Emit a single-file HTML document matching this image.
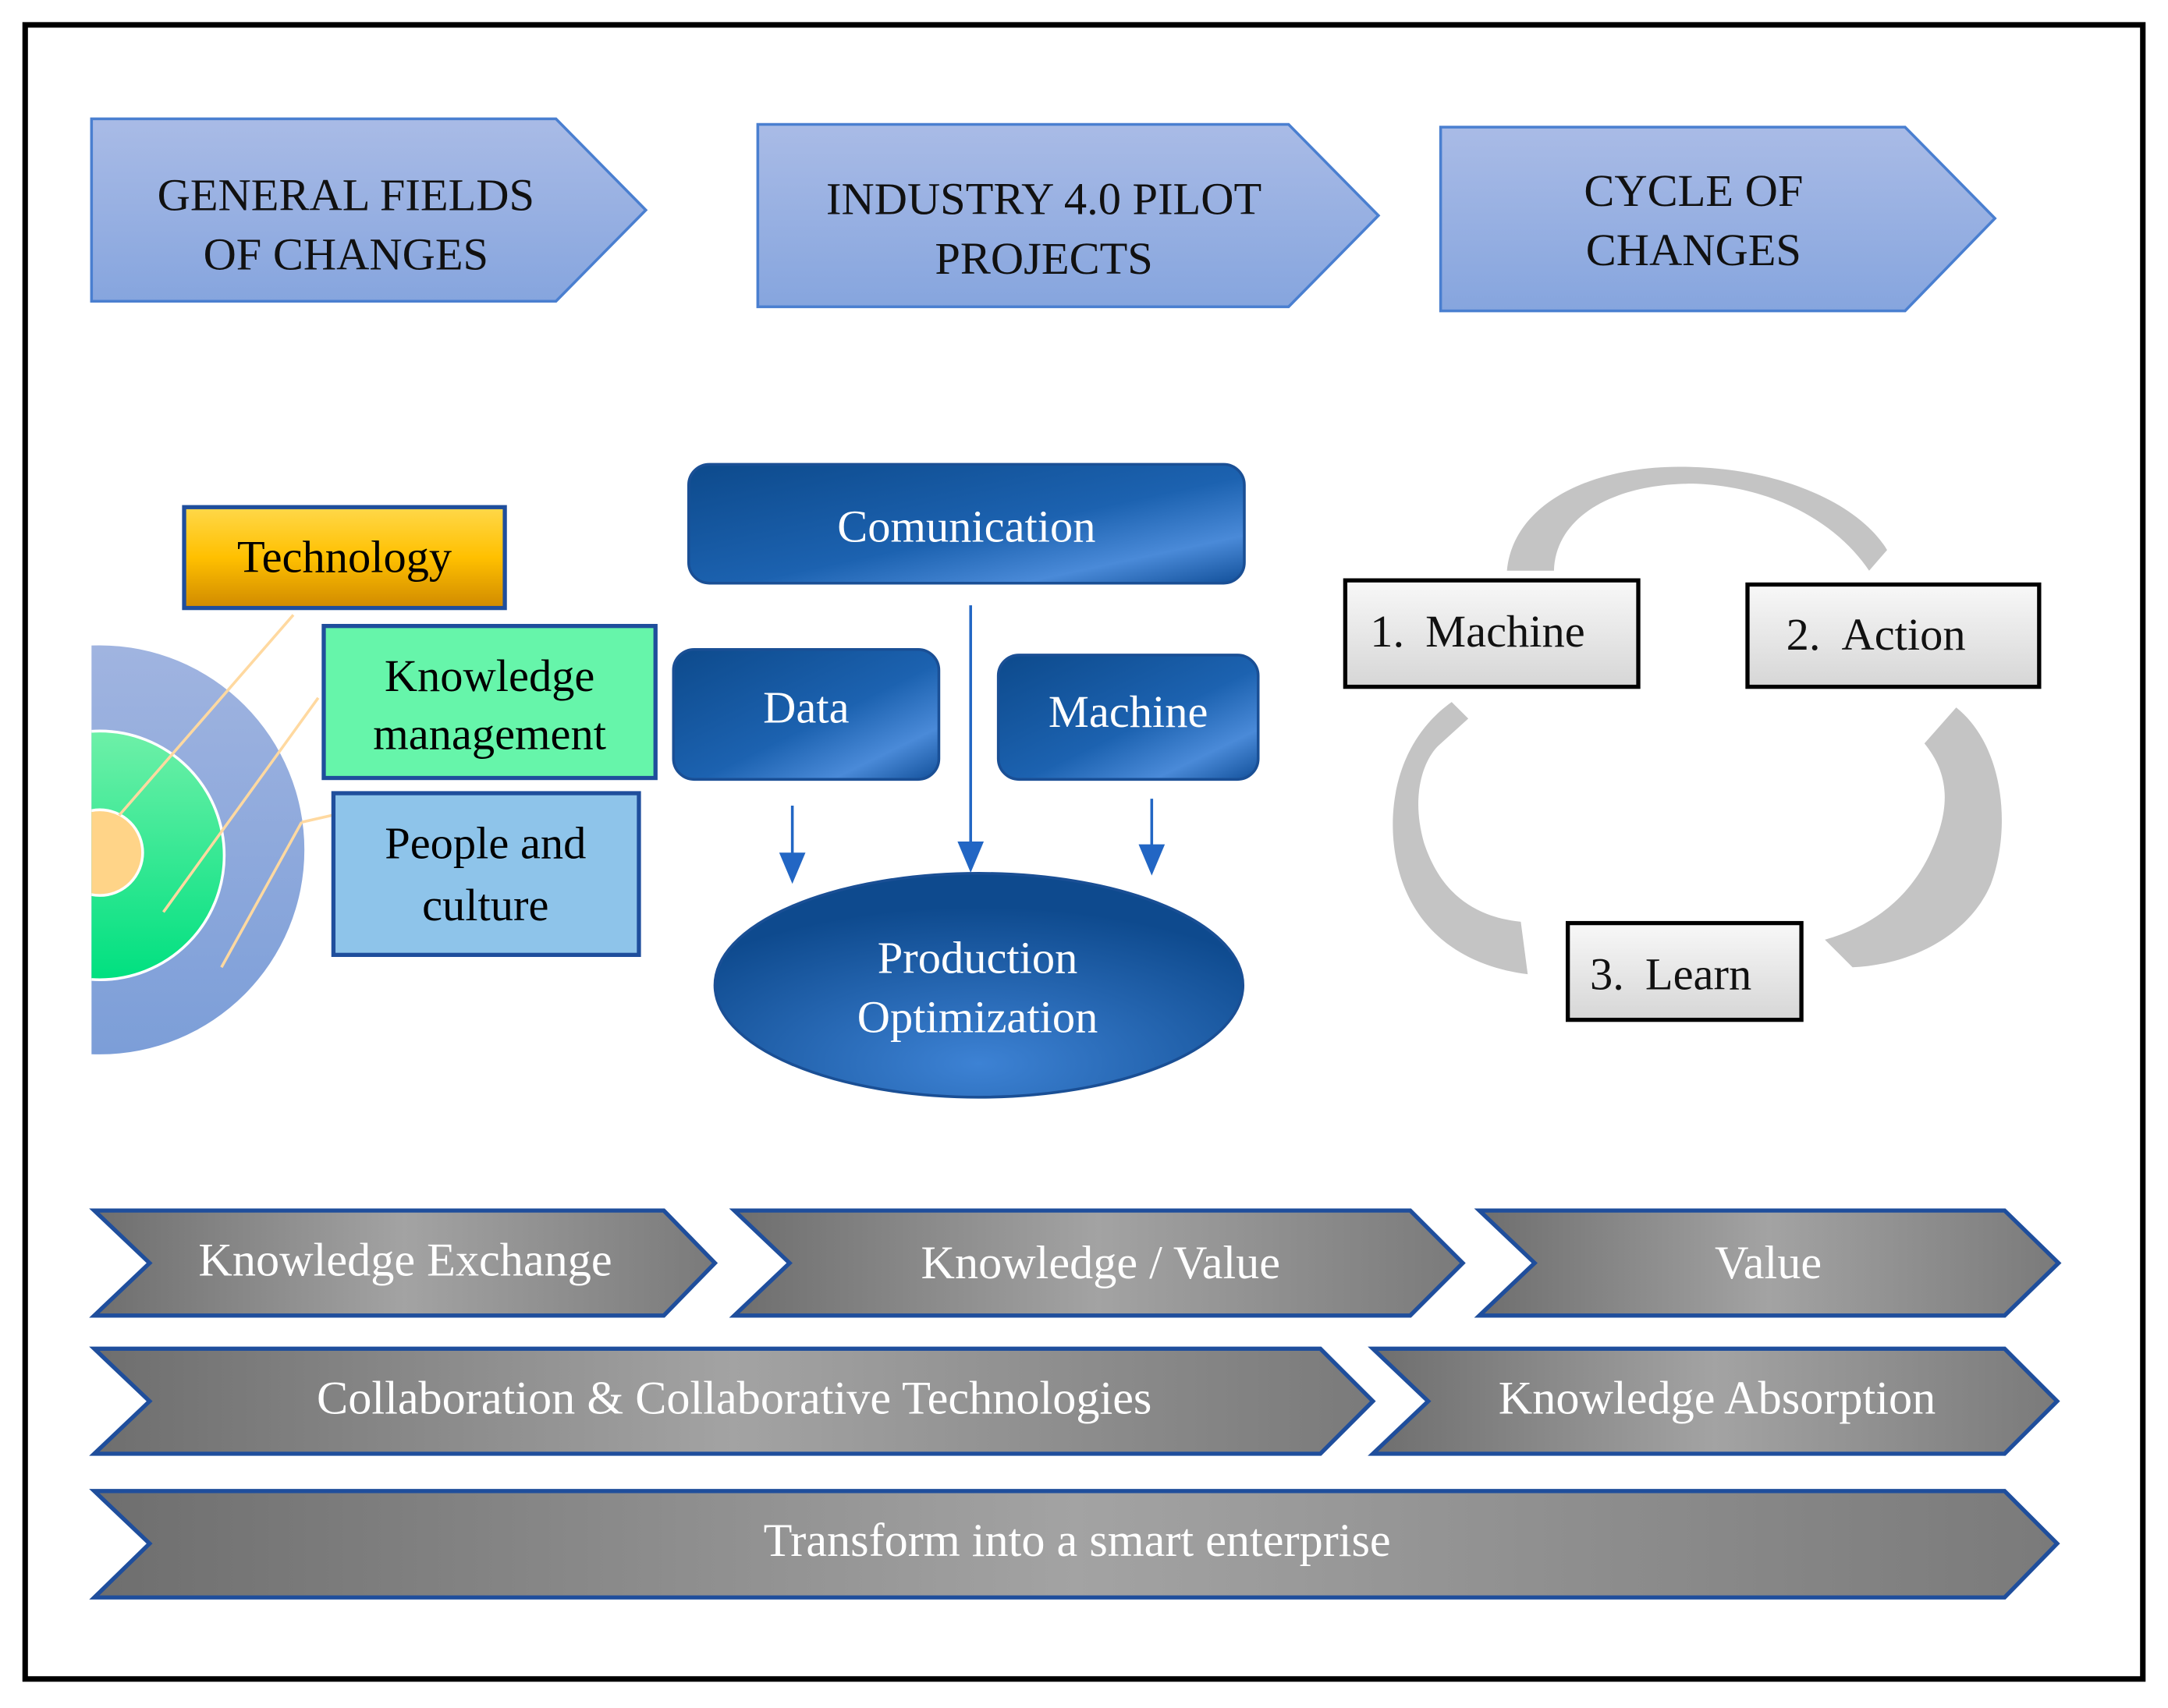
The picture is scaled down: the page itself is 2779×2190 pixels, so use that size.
<!DOCTYPE html>
<html><head><meta charset="utf-8"><style>html,body{margin:0;padding:0;background:#fff}svg{display:block}</style></head><body>
<svg width="2779" height="2190" viewBox="0 0 1568 1236" xmlns="http://www.w3.org/2000/svg" font-family="Liberation Serif, serif">
<defs>
<linearGradient id="topg" x1="0" y1="0" x2="0" y2="1"><stop offset="0" stop-color="#a9bbe6"/><stop offset="1" stop-color="#86a5de"/></linearGradient>
<linearGradient id="gold" x1="0" y1="0" x2="0" y2="1"><stop offset="0" stop-color="#ffd84a"/><stop offset="0.5" stop-color="#ffc000"/><stop offset="1" stop-color="#d08a00"/></linearGradient>
<linearGradient id="blu" x1="0" y1="0" x2="1" y2="1"><stop offset="0" stop-color="#0d4a8c"/><stop offset="0.55" stop-color="#1c62b0"/><stop offset="0.8" stop-color="#4a8ad8"/><stop offset="1" stop-color="#12509a"/></linearGradient>
<radialGradient id="ell" cx="0.5" cy="0.85" r="0.7"><stop offset="0" stop-color="#3d82d4"/><stop offset="1" stop-color="#0e4a8e"/></radialGradient>
<linearGradient id="gr" x1="0" y1="0" x2="1" y2="0"><stop offset="0" stop-color="#6e6e6e"/><stop offset="0.5" stop-color="#a3a3a3"/><stop offset="1" stop-color="#7a7a7a"/></linearGradient>
<linearGradient id="box" x1="0" y1="0" x2="0" y2="1"><stop offset="0" stop-color="#f8f8f8"/><stop offset="1" stop-color="#d6d6d6"/></linearGradient>
<linearGradient id="outer" x1="0" y1="0" x2="0" y2="1"><stop offset="0" stop-color="#a0b4e0"/><stop offset="1" stop-color="#7c9ed8"/></linearGradient>
<linearGradient id="grn" x1="0" y1="0" x2="0" y2="1"><stop offset="0" stop-color="#6ef0a8"/><stop offset="1" stop-color="#00e080"/></linearGradient>
<clipPath id="cl"><rect x="66" y="400" width="300" height="400"/></clipPath>
</defs>
<rect x="18" y="18" width="1532" height="1197" fill="#fff" stroke="#000" stroke-width="4"/>
<g fill="url(#topg)" stroke="#4a7fd0" stroke-width="2">
<polygon points="66,86 402,86 467,152 402,218 66,218"/>
<polygon points="548,90 932,90 997,156 932,222 548,222"/>
<polygon points="1042,92 1378,92 1443,158 1378,225 1042,225"/>
</g>
<g font-size="33" text-anchor="middle" fill="#111">
<text x="250" y="152">GENERAL FIELDS</text><text x="250" y="195">OF CHANGES</text>
<text x="755" y="155">INDUSTRY 4.0 PILOT</text><text x="755" y="198">PROJECTS</text>
<text x="1225" y="149">CYCLE OF</text><text x="1225" y="192">CHANGES</text>
</g>
<g clip-path="url(#cl)">
<circle cx="72" cy="615" r="148" fill="url(#outer)"/>
<circle cx="72" cy="619" r="90" fill="url(#grn)" stroke="#fff" stroke-width="2"/>
<circle cx="72" cy="617" r="31" fill="#ffd488" stroke="#fff" stroke-width="2"/>
</g>
<g stroke="#ffd9a0" stroke-width="2" fill="none">
<line x1="212" y1="445" x2="86" y2="590"/>
<line x1="230" y1="505" x2="118" y2="660"/>
<line x1="240" y1="590" x2="218" y2="595"/><line x1="218" y1="595" x2="160" y2="700"/>
</g>
<rect x="133" y="367" width="232" height="73" fill="url(#gold)" stroke="#1f4e9c" stroke-width="3"/>
<rect x="234" y="453" width="240" height="110" fill="#66f5aa" stroke="#1f4e9c" stroke-width="3"/>
<rect x="241" y="574" width="221" height="117" fill="#8ec4ea" stroke="#1f4e9c" stroke-width="3"/>
<g font-size="33" text-anchor="middle" fill="#000">
<text x="249" y="414">Technology</text>
<text x="354" y="500">Knowledge</text><text x="354" y="542">management</text>
<text x="351" y="621">People and</text><text x="351" y="666">culture</text>
</g>
<g fill="url(#blu)" stroke="#1a4f95" stroke-width="2">
<rect x="498" y="336" width="402" height="86" rx="15"/>
<rect x="487" y="470" width="192" height="94" rx="15"/>
<rect x="722" y="474" width="188" height="90" rx="15"/>
</g>
<ellipse cx="708" cy="713" rx="191" ry="81" fill="url(#ell)" stroke="#1a4f95" stroke-width="2"/>
<g font-size="33" text-anchor="middle" fill="#fff">
<text x="699" y="392">Comunication</text>
<text x="583" y="523">Data</text>
<text x="816" y="526">Machine</text>
<text x="707" y="704">Production</text><text x="707" y="747">Optimization</text>
</g>
<g stroke="#2266c4" stroke-width="2" fill="#2266c4">
<line x1="573" y1="583" x2="573" y2="622"/><polygon points="565,618 581,618 573,637"/>
<line x1="702" y1="438" x2="702" y2="614"/><polygon points="694,610 710,610 702,629"/>
<line x1="833" y1="578" x2="833" y2="616"/><polygon points="825,612 841,612 833,631"/>
</g>
<g fill="#c4c4c4">
<path d="M1090,413 C1095,360 1160,335 1225,338 C1290,340 1345,365 1365,398 L1352,413 C1330,380 1285,352 1225,350 C1165,350 1125,375 1124,413 Z"/>
<path d="M1050,508 C1005,540 1000,600 1015,640 C1030,680 1065,700 1105,705 L1100,667 C1060,663 1040,640 1030,610 C1020,575 1030,550 1040,540 L1062,520 Z"/>
<path d="M1415,512 C1450,540 1455,600 1440,640 C1425,675 1385,698 1340,700 L1320,680 C1355,670 1380,650 1395,620 C1412,585 1410,560 1392,538 Z"/>
</g>
<g stroke="#000" stroke-width="3" fill="url(#box)">
<rect x="973" y="420" width="212" height="77"/>
<rect x="1264" y="423" width="211" height="74"/>
<rect x="1134" y="668" width="169" height="70"/>
</g>
<g font-size="33" fill="#111">
<text x="991" y="468">1.</text><text x="1031" y="468">Machine</text>
<text x="1292" y="470">2.</text><text x="1332" y="470">Action</text>
<text x="1150" y="716">3.</text><text x="1190" y="716">Learn</text>
</g>
<g fill="url(#gr)" stroke="#1f4e9c" stroke-width="3">
<polygon points="68,876 480,876 517,914 480,952 68,952 108,914"/>
<polygon points="531,876 1020,876 1058,914 1020,952 531,952 571,914"/>
<polygon points="1070,876 1450,876 1489,914 1450,952 1070,952 1110,914"/>
<polygon points="68,976 955,976 993,1014 955,1052 68,1052 108,1014"/>
<polygon points="993,976 1450,976 1488,1014 1450,1052 993,1052 1033,1014"/>
<polygon points="68,1079 1450,1079 1488,1117 1450,1156 68,1156 108,1117"/>
</g>
<g font-size="34" text-anchor="middle" fill="#fff">
<text x="293" y="923">Knowledge Exchange</text>
<text x="796" y="925">Knowledge / Value</text>
<text x="1279" y="925">Value</text>
<text x="531" y="1023">Collaboration &amp; Collaborative Technologies</text>
<text x="1242" y="1023">Knowledge Absorption</text>
<text x="779" y="1126">Transform into a smart enterprise</text>
</g>
</svg>
</body></html>
